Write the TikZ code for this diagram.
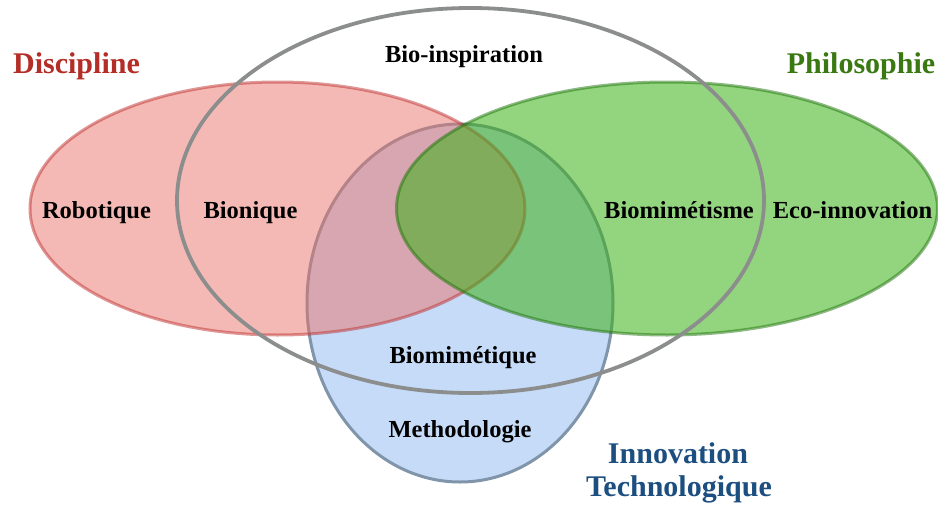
\documentclass[tikz,border=0pt]{standalone}
\usepackage{fontspec}
\setmainfont{Liberation Serif}
\definecolor{redfill}{RGB}{233,115,105}
\definecolor{redline}{RGB}{190,50,50}
\definecolor{greenfill}{RGB}{59,177,22}
\definecolor{greenline}{RGB}{30,115,10}
\definecolor{bluefill}{RGB}{198,219,248}
\definecolor{blueline}{RGB}{128,148,170}
\definecolor{grayline}{RGB}{140,142,142}
\definecolor{disc}{RGB}{180,45,38}
\definecolor{philo}{RGB}{58,120,18}
\definecolor{innov}{RGB}{28,78,128}
\begin{document}
\begin{tikzpicture}[x=1pt,y=-1pt,
  lbl/.style={anchor=base,inner sep=0pt,font=\bfseries\fontsize{24.5}{28}\selectfont,text=black},
  ttl/.style={anchor=base,inner sep=0pt,font=\bfseries\fontsize{30}{33}\selectfont},
  setline/.style={line width=3pt}]
\useasboundingbox (0,0) rectangle (938,506);
% ellipses
\draw[setline,draw=blueline,fill=bluefill] (460,303) ellipse [x radius=153pt, y radius=179pt];
\draw[setline,draw=redline,fill=redfill,fill opacity=0.5,draw opacity=0.5] (277.5,208.5) ellipse [x radius=247.5pt, y radius=126.5pt];
\draw[setline,draw=greenline,fill=greenfill,fill opacity=0.55,draw opacity=0.5] (667,208.5) ellipse [x radius=270.5pt, y radius=126.5pt];
\draw[line width=3.8pt,draw=grayline] (470.5,200.5) ellipse [x radius=293.5pt, y radius=192.5pt];
% titles
\node[ttl,text=disc] (discipline) at (76.5,73) {Discipline};
\node[ttl,text=philo] (philosophie) at (861,73) {Philosophie};
\node[ttl,text=innov] (innovation) at (678,463) {Innovation};
\node[ttl,text=innov] (technologique) at (679,496) {Technologique};
% labels
\node[lbl] (bioinsp) at (464,62) {Bio-inspiration};
\node[lbl] (robotique) at (96.5,218) {Robotique};
\node[lbl] (bionique) at (250.5,218) {Bionique};
\node[lbl] (biomimetisme) at (679,218) {Biomimétisme};
\node[lbl] (ecoinno) at (852.5,218) {Eco-innovation};
\node[lbl] (biomimetique) at (463,363) {Biomimétique};
\node[lbl] (methodo) at (460,437) {Methodologie};
\end{tikzpicture}
\end{document}
